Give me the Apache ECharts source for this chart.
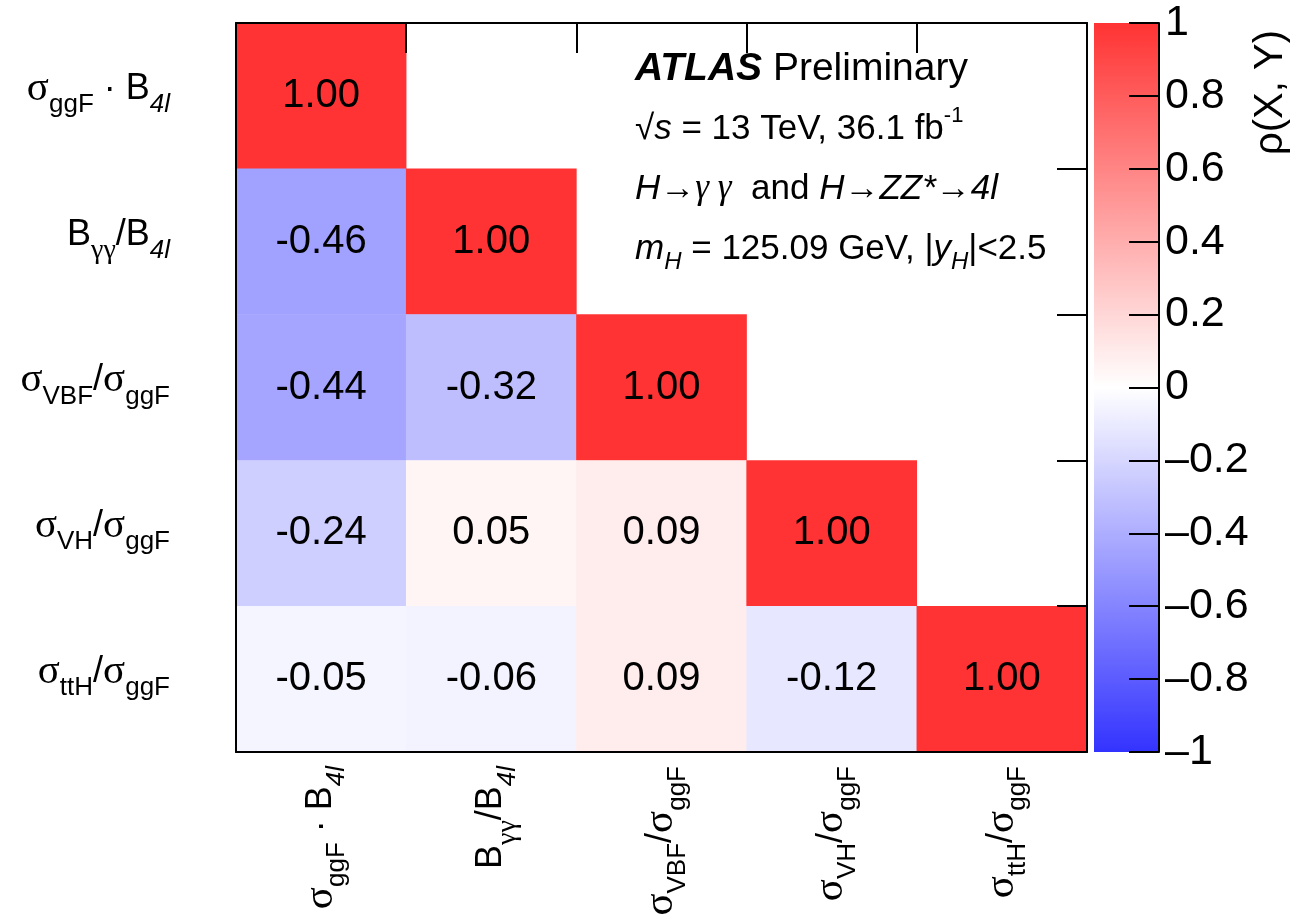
<!DOCTYPE html>
<html>
<head>
<meta charset="utf-8">
<script src="https://cdn.jsdelivr.net/npm/echarts@6/dist/echarts.min.js"></script>
<style>
  html, body { margin: 0; padding: 0; background: #fff; }
  #chart { width: 1312px; height: 915px; }
</style>
</head>
<body>
<div id="chart"></div>
<script>
// Parameters of interest (same order on both axes)
const paramLabels = [
  '{s|σ}{sub|ggF}{n| · B}{subi|4l}',
  '{n|B}{subg|γγ}{n|/B}{subi|4l}',
  '{s|σ}{sub|VBF}{n|/}{s|σ}{sub|ggF}',
  '{s|σ}{sub|VH}{n|/}{s|σ}{sub|ggF}',
  '{s|σ}{sub|ttH}{n|/}{s|σ}{sub|ggF}'
];

// Lower-triangle correlation coefficients, one array per row
const rowGgF  = [1.00];
const rowBR   = [-0.46, 1.00];
const rowVBF  = [-0.44, -0.32, 1.00];
const rowVH   = [-0.24, 0.05, 0.09, 1.00];
const rowTtH  = [-0.05, -0.06, 0.09, -0.12, 1.00];
const correlationRows = [rowGgF, rowBR, rowVBF, rowVH, rowTtH];

// Colour scale
const scaleMin = -1;
const scaleMax = 1;
const scaleStep = 0.2;
const paletteColors = ['#3333ff', '#ffffff', '#ff3333'];

const heatData = [];
correlationRows.forEach(function (row, r) {
  row.forEach(function (v, c) { heatData.push([c, r, v]); });
});

const SANS = '"Liberation Sans", Arial, Helvetica, sans-serif';
const SERIF = '"Liberation Serif", "DejaVu Serif", serif';

const labelRich = {
  n:    { fontFamily: SANS, fontSize: 36, color: '#000' },
  s:    { fontFamily: SERIF, fontSize: 41, color: '#000' },
  sub:  { fontFamily: SANS, fontSize: 26, color: '#000', padding: [32, 0, 0, 0] },
  subi: { fontFamily: SANS, fontSize: 26, fontStyle: 'italic', color: '#000', padding: [32, 0, 0, 0] },
  subg: { fontFamily: SERIF, fontSize: 28, color: '#000', padding: [32, 0, 0, 0] }
};

const chart = echarts.init(document.getElementById('chart'), null, { renderer: 'canvas' });

const frameLine = { show: true, onZero: false, lineStyle: { color: '#000', width: 2 } };
const innerTicks = { show: true, inside: true, length: 30, interval: 0, lineStyle: { color: '#000', width: 2 } };

chart.setOption({
  animation: false,
  backgroundColor: '#fff',
  grid: [
    { left: 236, top: 23, width: 851, height: 729, containLabel: false, outerBoundsMode: 'none' },
    { left: 1094, top: 23, width: 65, height: 729, containLabel: false, outerBoundsMode: 'none' }
  ],
  xAxis: [
    {
      type: 'category', gridIndex: 0, position: 'bottom', data: paramLabels, z: 10,
      axisLine: frameLine, axisTick: { show: false }, splitLine: { show: false },
      axisLabel: { interval: 0, rotate: 90, margin: 14, rich: labelRich, formatter: function (v) { return v; } }
    },
    {
      type: 'category', gridIndex: 0, position: 'top', data: paramLabels, z: 10,
      axisLine: frameLine, axisLabel: { show: false, interval: 0 }, axisTick: innerTicks
    },
    { type: 'value', gridIndex: 1, min: 0, max: 1, show: false }
  ],
  yAxis: [
    {
      type: 'category', gridIndex: 0, position: 'left', inverse: true, data: paramLabels, z: 10,
      axisLine: frameLine, axisTick: { show: false }, splitLine: { show: false },
      axisLabel: { interval: 0, margin: 66, rich: labelRich, padding: [0, 0, 14, 0], formatter: function (v) { return v; } }
    },
    {
      type: 'category', gridIndex: 0, position: 'right', inverse: true, data: paramLabels, z: 10,
      axisLine: frameLine, axisLabel: { show: false, interval: 0 }, axisTick: innerTicks
    },
    {
      type: 'value', gridIndex: 1, position: 'right', min: scaleMin, max: scaleMax, interval: scaleStep, z: 10,
      axisLine: frameLine, splitLine: { show: false },
      axisTick: { show: true, inside: true, length: 30, lineStyle: { color: '#000', width: 2 } },
      axisLabel: {
        margin: 6, fontFamily: SANS, fontSize: 43, color: '#000',
        formatter: function (v) {
          const r = Math.round(v * 10) / 10;
          if (r === 0) return '0';
          return r < 0 ? '\u2013' + String(-r) : String(r);
        }
      }
    }
  ],
  visualMap: {
    show: false, type: 'continuous', min: scaleMin, max: scaleMax, seriesIndex: 0, dimension: 2,
    inRange: { color: paletteColors }
  },
  series: [
    {
      type: 'heatmap', xAxisIndex: 0, yAxisIndex: 0, data: heatData,
      label: {
        show: true, fontFamily: SANS, fontSize: 40, color: '#000',
        formatter: function (p) { return p.value[2].toFixed(2); }
      },
      itemStyle: { borderWidth: 0 },
      emphasis: { disabled: true }
    },
    {
      type: 'custom', xAxisIndex: 2, yAxisIndex: 2, silent: true, z: 1,
      data: [[0, scaleMin, 1, scaleMax]],
      renderItem: function (params, api) {
        const p0 = api.coord([api.value(0), api.value(3)]);
        const p1 = api.coord([api.value(2), api.value(1)]);
        return {
          type: 'rect',
          shape: { x: p0[0], y: p0[1], width: p1[0] - p0[0], height: p1[1] - p0[1] },
          style: {
            fill: new echarts.graphic.LinearGradient(0, 0, 0, 1, [
              { offset: 0, color: paletteColors[2] },
              { offset: 0.5, color: paletteColors[1] },
              { offset: 1, color: paletteColors[0] }
            ])
          }
        };
      }
    }
  ],
  graphic: [
    {
      type: 'text', left: 1251, top: 30, rotation: Math.PI / 2, originX: 0, originY: 0,
      style: { text: 'ρ(X, Y)', font: '40px ' + SANS, fill: '#000' }
    },
    {
      type: 'text', x: 635, y: 69,
      style: {
        text: '{b|ATLAS}{n| Preliminary}', verticalAlign: 'middle', align: 'left',
        rich: {
          b: { fontFamily: SANS, fontSize: 39, fontWeight: 'bold', fontStyle: 'italic', fill: '#000' },
          n: { fontFamily: SANS, fontSize: 39, fill: '#000' }
        }
      }
    },
    {
      type: 'text', x: 635, y: 129,
      style: {
        text: '{n|√}{i|s}{n| = 13 TeV, 36.1 fb}{sup|-1}', verticalAlign: 'middle', align: 'left',
        rich: {
          n: { fontFamily: SANS, fontSize: 35, fill: '#000' },
          i: { fontFamily: SANS, fontSize: 35, fontStyle: 'italic', fill: '#000' },
          sup: { fontFamily: SANS, fontSize: 22, fill: '#000', padding: [0, 0, 26, 0] }
        }
      }
    },
    {
      type: 'text', x: 635, y: 189,
      style: {
        text: '{i|H}{n|→}{g|γ γ}{n|  and }{i|H}{n|→}{i|ZZ*}{n|→}{i|4l}', verticalAlign: 'middle', align: 'left',
        rich: {
          n: { fontFamily: SANS, fontSize: 35, fill: '#000' },
          i: { fontFamily: SANS, fontSize: 35, fontStyle: 'italic', fill: '#000' },
          g: { fontFamily: SERIF, fontSize: 35, fontStyle: 'italic', fill: '#000' }
        }
      }
    },
    {
      type: 'text', x: 635, y: 249,
      style: {
        text: '{i|m}{subi|H}{n| = 125.09 GeV, |}{i|y}{subi|H}{n||<2.5}', verticalAlign: 'middle', align: 'left',
        rich: {
          n: { fontFamily: SANS, fontSize: 35, fill: '#000' },
          i: { fontFamily: SANS, fontSize: 35, fontStyle: 'italic', fill: '#000' },
          subi: { fontFamily: SANS, fontSize: 24, fontStyle: 'italic', fill: '#000', padding: [26, 0, 0, 0] }
        }
      }
    }
  ]
});
</script>
</body>
</html>
